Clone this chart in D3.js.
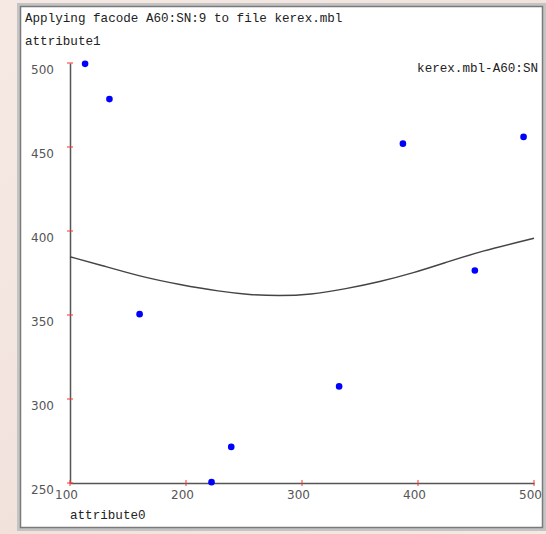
<!DOCTYPE html>
<html>
<head>
<meta charset="utf-8">
<script src="https://cdn.jsdelivr.net/npm/d3@7/dist/d3.min.js"></script>
<style>
  html, body { margin: 0; padding: 0; }
  body { width: 546px; height: 534px; overflow: hidden;
         background: linear-gradient(135deg, #f6e9e4 0%, #f1e2dc 50%, #f5e9e4 100%); }
  svg { display: block; }
</style>
</head>
<body>
<svg id="chart" width="546" height="534"></svg>
<script>
// Scatter of attribute0 vs attribute1 with the fitted curve
const attribute0 = [113, 134, 160, 222, 239, 332, 387, 449, 491];
const attribute1 = [499.5, 478.5, 350.5, 250.5, 271.5, 307.5, 452, 376.5, 456];

// Fitted curve, sampled along attribute0
const fitX = [100, 126, 160, 195, 229, 255, 280, 307, 338, 367, 396, 425, 453, 500];
const fitY = [384.7, 379.8, 373.0, 368.0, 364.0, 362.0, 361.4, 362.0, 365.6, 369.8, 375.0, 381.5, 387.7, 395.7];

const xTicks = [100, 200, 300, 400, 500];
const yTicks = [250, 300, 350, 400, 450, 500];

const titleText = "Applying facode A60:SN:9 to file kerex.mbl";
const seriesLabel = "kerex.mbl-A60:SN";
const xLabel = "attribute0";
const yLabel = "attribute1";

const svg = d3.select("#chart");

// Inset panel
svg.append("rect").attr("x", 18.5).attr("y", 4.5).attr("width", 526).attr("height", 525)
  .attr("fill", "#ffffff").attr("stroke", "#c4c4c4").attr("stroke-width", 3);
svg.append("rect").attr("x", 20.5).attr("y", 6.5).attr("width", 522).attr("height", 521)
  .attr("fill", "none").attr("stroke", "#7a7a7a").attr("stroke-width", 1.5);

const x = d3.scaleLinear().domain([100, 500]).range([70, 534]);
const y = d3.scaleLinear().domain([250, 500]).range([483, 63]);

const mono = "'Liberation Mono', 'DejaVu Sans Mono', monospace";
const sans = "'DejaVu Sans', Verdana, sans-serif";

// Titles
svg.append("text").attr("x", 25).attr("y", 22).attr("font-family", mono)
  .attr("font-size", 12.6).attr("fill", "#222").text(titleText);
svg.append("text").attr("x", 25).attr("y", 45).attr("font-family", mono)
  .attr("font-size", 12.6).attr("fill", "#222").text(yLabel);
svg.append("text").attr("x", 538).attr("y", 72).attr("text-anchor", "end").attr("font-family", mono)
  .attr("font-size", 12.6).attr("fill", "#222").text(seriesLabel);
svg.append("text").attr("x", 70).attr("y", 519).attr("font-family", mono)
  .attr("font-size", 12.6).attr("fill", "#222").text(xLabel);

// Axes
const yAxis = d3.axisLeft(y).tickValues(yTicks).tickSize(0).tickPadding(16).tickFormat(d3.format("d"));
const xAxis = d3.axisBottom(x).tickValues(xTicks).tickSize(0).tickPadding(7).tickFormat(d3.format("d"));

const gy = svg.append("g").attr("transform", `translate(${x(100)},0)`).call(yAxis);
const gx = svg.append("g").attr("transform", `translate(0,${y(250)})`).call(xAxis);

[gy, gx].forEach(g => {
  g.select(".domain").attr("stroke", "#555").attr("stroke-width", 1.5);
  g.selectAll("text").attr("font-family", sans).attr("font-size", 12).attr("fill", "#555");
});
gy.selectAll(".tick text").attr("dy", "0.85em").attr("x", -16);
gx.selectAll(".tick text").attr("dx", "-4px");

// Red tick crosses
svg.append("g").selectAll("line").data(yTicks).join("line")
  .attr("x1", x(100) - 3).attr("x2", x(100) + 3)
  .attr("y1", d => y(d)).attr("y2", d => y(d))
  .attr("stroke", "#ff3030").attr("stroke-width", 1);
svg.append("g").selectAll("line").data(xTicks).join("line")
  .attr("x1", d => x(d)).attr("x2", d => x(d))
  .attr("y1", y(250) - 3).attr("y2", y(250) + 3)
  .attr("stroke", "#ff3030").attr("stroke-width", 1);

// Fitted curve
const line = d3.line().x(d => x(d[0])).y(d => y(d[1])).curve(d3.curveBasis);
svg.append("path").datum(d3.zip(fitX, fitY)).attr("d", line)
  .attr("fill", "none").attr("stroke", "#444").attr("stroke-width", 1.4);

// Points
svg.append("g").selectAll("circle").data(d3.zip(attribute0, attribute1)).join("circle")
  .attr("cx", d => x(d[0])).attr("cy", d => y(d[1])).attr("r", 3.3)
  .attr("fill", "#0000ff");
</script>
</body>
</html>
